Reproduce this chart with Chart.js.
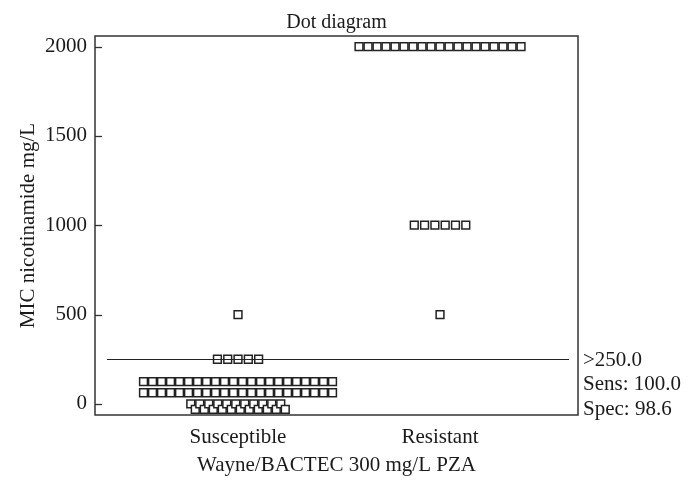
<!DOCTYPE html>
<html>
<head>
<meta charset="utf-8">
<script src="https://cdn.jsdelivr.net/npm/chart.js@4"></script>
<style>html,body{margin:0;padding:0;background:#fff}</style>
</head>
<body>
<canvas id="dotChart" width="696" height="480"></canvas>
<script>
const groups = ["Susceptible", "Resistant"];
const susValues = [500, 250, 125, 62.5, 0];
const susCounts = [1, 5, 22, 22, 22];
const resValues = [2000, 1000, 500];
const resCounts = [19, 6, 1];
const yTicks = [0, 500, 1000, 1500, 2000];
const cutoff = 250;
const sens = 100.0;
const spec = 98.6;

const serif = "'Liberation Serif', 'Times New Roman', serif";
const textColor = "#1a1a1a";

// rough pixel -> axis unit factors, used only to spread the dots sideways
const X_PER_PX = 1 / 202;
const Y_PER_PX = 2121 / 379;

function rowPoints(center, values, counts) {
    let pts = [];
    values.forEach((v, r) => {
        let n = counts[r];
        let packed = v === 0 && n > 10;   // crowded bottom row is staggered
        let step = (n <= 10 ? 10.3 : 9) * (packed ? 0.5 : 1);
        for (let i = 0; i < n; i++) {
            let dx = (i - (n - 1) / 2) * step * X_PER_PX;
            let dy = packed && i % 2 ? -5.5 * Y_PER_PX : 0;
            pts.push({ x: center + dx, y: v + dy });
        }
    });
    return pts;
}

const framePlugin = {
    id: "frame",
    afterDatasetsDraw(chart) {
        const { ctx, chartArea: a, scales } = chart;
        ctx.save();
        ctx.strokeStyle = "#333";
        ctx.lineWidth = 1.5;
        ctx.strokeRect(a.left, a.top, a.right - a.left, a.bottom - a.top);

        // inward tick marks on the y axis
        ctx.lineWidth = 1.3;
        scales.y.ticks.forEach(t => {
            let y = Math.round(scales.y.getPixelForValue(t.value)) + 0.5;
            ctx.beginPath();
            ctx.moveTo(a.left, y);
            ctx.lineTo(a.left + 7, y);
            ctx.stroke();
        });

        // cut-off line
        let yc = Math.round(scales.y.getPixelForValue(cutoff)) + 0.5;
        ctx.strokeStyle = "#222";
        ctx.lineWidth = 1.2;
        ctx.beginPath();
        ctx.moveTo(a.left + 12, yc);
        ctx.lineTo(a.right - 9, yc);
        ctx.stroke();

        ctx.fillStyle = textColor;
        ctx.font = "21px " + serif;
        ctx.textAlign = "left";
        ctx.textBaseline = "alphabetic";
        ctx.fillText(">" + cutoff.toFixed(1), a.right + 5, yc + 6);
        ctx.fillText("Sens: " + sens.toFixed(1), a.right + 5, yc + 30.5);
        ctx.fillText("Spec: " + spec.toFixed(1), a.right + 5, yc + 55);

        ctx.font = "20px " + serif;
        ctx.textAlign = "center";
        ctx.fillText("Dot diagram", (a.left + a.right) / 2, 28);
        ctx.restore();
    }
};

const ctx = document.getElementById("dotChart").getContext("2d");

new Chart(ctx, {
    type: "scatter",
    data: {
        datasets: [{
            data: [...rowPoints(1, susValues, susCounts), ...rowPoints(2, resValues, resCounts)],
            pointStyle: "rect",
            pointRadius: 5.5,
            pointHoverRadius: 5.5,
            borderWidth: 1.5,
            borderColor: "#222",
            backgroundColor: "#fff"
        }]
    },
    options: {
        responsive: false,
        animation: false,
        devicePixelRatio: 1,
        layout: { padding: { top: 36, right: 118, left: 0, bottom: 0 } },
        plugins: {
            legend: { display: false },
            tooltip: { enabled: false }
        },
        scales: {
            x: {
                type: "linear",
                min: 0.292,
                max: 2.683,
                afterBuildTicks: s => { s.ticks = groups.map((g, i) => ({ value: i + 1 })); },
                afterFit: s => { s.height = 65; },
                grid: { display: false, drawTicks: false },
                border: { display: false },
                ticks: {
                    callback: v => groups[Math.round(v) - 1],
                    padding: 10,
                    autoSkip: false,
                    maxRotation: 0,
                    color: textColor,
                    font: { family: serif, size: 21 }
                },
                title: {
                    display: true,
                    text: "Wayne/BACTEC 300 mg/L PZA",
                    color: textColor,
                    font: { family: serif, size: 21 },
                    padding: { top: 0, bottom: 2 }
                }
            },
            y: {
                min: -62,
                max: 2059,
                afterBuildTicks: s => { s.ticks = yTicks.map(v => ({ value: v })); },
                afterFit: s => { s.width = 95; },
                grid: { display: false, drawTicks: false },
                border: { display: false },
                ticks: {
                    callback: v => String(v),
                    padding: 8,
                    color: textColor,
                    font: { family: serif, size: 21 }
                },
                title: {
                    display: true,
                    text: "MIC nicotinamide mg/L",
                    color: textColor,
                    font: { family: serif, size: 21 },
                    padding: { top: 16, bottom: 4 }
                }
            }
        }
    },
    plugins: [framePlugin]
});
</script>
</body>
</html>
